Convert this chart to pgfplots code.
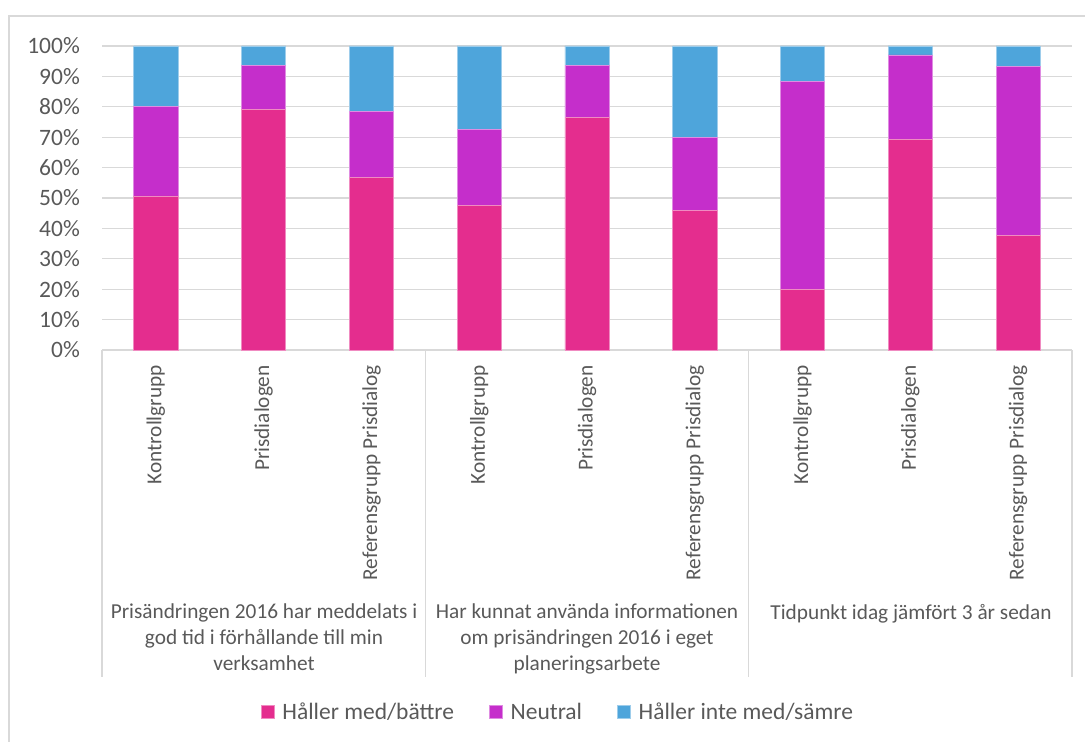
\documentclass[border=0pt]{standalone}
\usepackage{fontspec}
\setmainfont{Carlito}
\usepackage{pgfplots}
\pgfplotsset{compat=1.18}
\definecolor{cpink}{HTML}{E42D8E}
\definecolor{cneut}{HTML}{C52ECB}
\definecolor{cblue}{HTML}{4EA5DB}
\definecolor{txt}{HTML}{595959}
\definecolor{gridc}{HTML}{D9D9D9}
\begin{document}
\begin{tikzpicture}[x=1pt,y=1pt]
\useasboundingbox (0,0) rectangle (1085,742);
\draw[gridc, line width=1.2pt] (9,0) -- (9,726) -- (1085,726);
\begin{axis}[
  at={(102pt,392pt)}, anchor=south west,
  scale only axis, width=970pt, height=304pt,
  ymin=0, ymax=100, xmin=-0.5, xmax=8.5,
  ybar stacked, bar width=0.41,
  axis line style={draw=none},
  major tick length=0pt,
  ytick={0,10,...,100},
  yticklabel={\pgfmathprintnumber{\tick}\%},
  /pgf/number format/assume math mode=true,
  ymajorgrids, grid style={gridc, line width=1.2pt},
  xtick={0,...,8},
  xticklabels={Kontrollgrupp,Prisdialogen,Referensgrupp Prisdialog,Kontrollgrupp,Prisdialogen,Referensgrupp Prisdialog,Kontrollgrupp,Prisdialogen,Referensgrupp Prisdialog},
  xticklabel style={rotate=90, anchor=east, inner sep=0pt, font=\fontsize{21.3}{26}\selectfont, text=txt},
  xticklabel shift=15pt,
  yticklabel style={anchor=east, inner sep=0pt, font=\fontsize{23.5}{28}\selectfont, text=txt},
  yticklabel shift=22pt,
  clip=false,
  legend columns=-1,
  legend image code/.code={\fill[#1] (0pt,-6.5pt) rectangle (13pt,6.5pt);},
  legend style={at={(0.470,-1.191)}, anchor=center, draw=none, fill=none,
    font=\fontsize{23.5}{28}\selectfont, text=txt,
    /tikz/every odd column/.append style={column sep=6pt},
    /tikz/every even column/.append style={column sep=33pt}},
]
\addplot[fill=cpink, draw=cpink!55!white, line width=0.6pt] coordinates {(0,50.7) (1,79.2) (2,56.9) (3,47.5) (4,76.4) (5,46.0) (6,20.0) (7,69.3) (8,37.7)};
\addplot[fill=cneut, draw=cneut!55!white, line width=0.6pt] coordinates {(0,29.3) (1,14.4) (2,21.6) (3,25.1) (4,17.2) (5,24.0) (6,68.4) (7,27.8) (8,55.6)};
\addplot[fill=cblue, draw=cblue!55!white, line width=0.6pt] coordinates {(0,20.0) (1,6.4) (2,21.5) (3,27.4) (4,6.4) (5,30.0) (6,11.6) (7,2.9) (8,6.7)};
\legend{Håller med/bättre, Neutral, Håller inte med/sämre}
\draw[gridc, line width=1.2pt] (axis cs:-0.5,0) -- (axis cs:8.5,0);
\draw[gridc, line width=1.2pt] (axis cs:-0.5,0) -- (axis cs:-0.5,-107.6);
\draw[gridc, line width=1.2pt] (axis cs:2.5,0) -- (axis cs:2.5,-107.6);
\draw[gridc, line width=1.2pt] (axis cs:5.5,0) -- (axis cs:5.5,-107.6);
\draw[gridc, line width=1.2pt] (axis cs:8.5,0) -- (axis cs:8.5,-107.6);
\end{axis}
\begin{scope}[every node/.style={anchor=north, align=center, inner sep=0pt, text=txt, font=\fontsize{21.3}{26}\selectfont}]
\node at (264,138) {Prisändringen 2016 har meddelats i\\god tid i förhållande till min\\verksamhet};
\node at (587,138) {Har kunnat använda informationen\\om prisändringen 2016 i eget\\planeringsarbete};
\node at (911,138) {Tidpunkt idag jämfört 3 år sedan};
\end{scope}
\end{tikzpicture}
\end{document}
